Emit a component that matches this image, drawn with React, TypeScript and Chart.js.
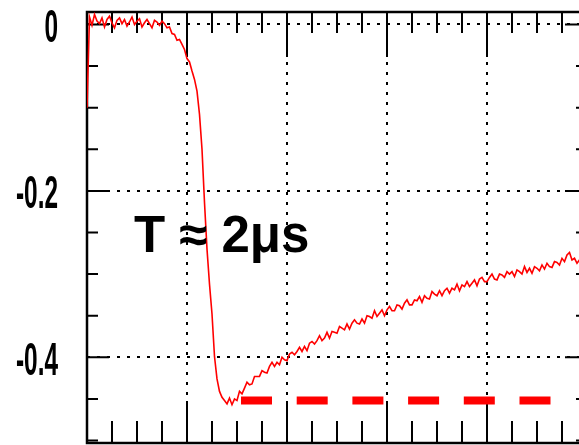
import { useEffect, useRef } from "react";
import { Chart, registerables } from "chart.js";

Chart.register(...registerables);

// Oscilloscope capture: sample interval in microseconds and the recorded trace (V)
const sampleStepUs = 0.05;
const traceVolts = [
  -0.100, 0.009, -0.001, 0.012, 0.004, 0.001, 0.008, -0.003, 0.006, 0.010,
  0.002, -0.004, 0.005, 0.008, 0.001, 0.006, -0.002, 0.003, 0.009, 0.000,
  0.004, 0.007, -0.003, 0.002, 0.006, 0.001, -0.004, 0.005, 0.003, -0.001,
  0.004, 0.001, -0.004, -0.003, -0.011, -0.012, -0.019, -0.018, -0.024, -0.030,
  -0.041, -0.045, -0.056, -0.066, -0.080, -0.108, -0.150, -0.214, -0.270, -0.312,
  -0.348, -0.399, -0.426, -0.441, -0.448, -0.452, -0.456, -0.449, -0.457, -0.450,
  -0.452, -0.441, -0.444, -0.437, -0.430, -0.433, -0.432, -0.423, -0.423, -0.423,
  -0.416, -0.418, -0.419, -0.411, -0.406, -0.411, -0.406, -0.409, -0.400, -0.403,
  -0.404, -0.396, -0.394, -0.397, -0.393, -0.388, -0.393, -0.387, -0.392, -0.383,
  -0.381, -0.384, -0.380, -0.374, -0.380, -0.377, -0.370, -0.377, -0.369, -0.370,
  -0.371, -0.363, -0.365, -0.367, -0.360, -0.366, -0.359, -0.355, -0.359, -0.360,
  -0.354, -0.359, -0.350, -0.351, -0.353, -0.344, -0.351, -0.347, -0.343, -0.350,
  -0.343, -0.339, -0.344, -0.344, -0.337, -0.338, -0.342, -0.335, -0.331, -0.337,
  -0.337, -0.331, -0.332, -0.327, -0.334, -0.326, -0.329, -0.330, -0.321, -0.324,
  -0.326, -0.320, -0.326, -0.320, -0.317, -0.323, -0.317, -0.319, -0.312, -0.320,
  -0.313, -0.315, -0.309, -0.315, -0.311, -0.307, -0.314, -0.306, -0.304, -0.309,
  -0.309, -0.304, -0.300, -0.306, -0.307, -0.300, -0.301, -0.304, -0.297, -0.300,
  -0.297, -0.303, -0.295, -0.297, -0.300, -0.291, -0.298, -0.293, -0.299, -0.291,
  -0.293, -0.296, -0.289, -0.294, -0.287, -0.291, -0.292, -0.285, -0.286, -0.289,
  -0.281, -0.285, -0.277, -0.274, -0.283, -0.281, -0.287, -0.283, -0.285,
];

// Reference level marking the trace minimum
const floorLevel = -0.452;
const floorSpanUs = [3.08, 9.3];

// Axes
const xRangeUs = [0, 10];
const yRangeVolts = [-0.503, 0.015];
const xMajorTicks = [2, 4, 6, 8];
const xMinorStep = 0.5;
const yTickValues = [-0.4, -0.2, 0];
const yTickLabels = ["-0.4", "-0.2", "0"];
const yMinorStep = 0.05;

// Annotation
const annotationText = "T ≈ 2μs";
const annotationAnchor = { x: 0.94, y: -0.273 };

const CANVAS_W = 600;
const CANVAS_H = 460;

const isMultiple = (v: number, step: number) =>
  Math.abs(v / step - Math.round(v / step)) < 1e-6;

const scopePlugin = {
  id: "scopeFrame",
  beforeDatasetsDraw(chart: any) {
    const { ctx, chartArea: a, scales } = chart;
    const xs = scales.x;
    const ys = scales.y;
    ctx.save();
    ctx.setLineDash([]);
    ctx.strokeStyle = "#000";
    ctx.lineWidth = 2;
    ctx.beginPath();
    // inward ticks on top and bottom edges
    for (let i = 1; i * xMinorStep < xRangeUs[1] - 1e-9; i++) {
      const v = i * xMinorStep;
      const px = xs.getPixelForValue(v);
      const major = xMajorTicks.some((m) => Math.abs(m - v) < 1e-6);
      ctx.moveTo(px, a.top);
      ctx.lineTo(px, a.top + (major ? 45 : 21));
      ctx.moveTo(px, a.bottom);
      ctx.lineTo(px, a.bottom - (major ? 42 : 22));
    }
    // inward ticks on left and right edges
    for (let k = 0; -k * yMinorStep >= yRangeVolts[0] - 1e-9; k++) {
      const v = -k * yMinorStep;
      const py = ys.getPixelForValue(v);
      const major = isMultiple(v, 0.2);
      const len = major ? 22 : 11;
      ctx.moveTo(a.left, py);
      ctx.lineTo(a.left + len, py);
      ctx.moveTo(a.right, py);
      ctx.lineTo(a.right - len, py);
    }
    ctx.stroke();
    ctx.lineWidth = 2.5;
    ctx.strokeRect(a.left, a.top, a.right - a.left, a.bottom - a.top);
    ctx.restore();
  },
  afterDraw(chart: any) {
    const { ctx, scales } = chart;
    const xs = scales.x;
    const ys = scales.y;
    ctx.save();
    ctx.fillStyle = "#000";
    // condensed axis labels
    ctx.font = "bold 46px 'Liberation Sans', Arial, sans-serif";
    ctx.textAlign = "right";
    ctx.textBaseline = "alphabetic";
    yTickValues.forEach((v, i) => {
      const py = ys.getPixelForValue(v);
      ctx.save();
      ctx.translate(58, py + 17.5);
      ctx.scale(0.53, 1);
      ctx.fillText(yTickLabels[i], 0, 0);
      ctx.restore();
    });
    // time-constant annotation
    ctx.font = "bold 51px 'Liberation Sans', Arial, sans-serif";
    ctx.textAlign = "left";
    ctx.fillText(
      annotationText,
      xs.getPixelForValue(annotationAnchor.x),
      ys.getPixelForValue(annotationAnchor.y)
    );
    ctx.restore();
  },
};

export default function App() {
  const canvasRef = useRef<HTMLCanvasElement | null>(null);

  useEffect(() => {
    const canvas = canvasRef.current;
    if (!canvas) return;
    const tracePoints = traceVolts.map((v, i) => ({ x: i * sampleStepUs, y: v }));
    const floorPoints = floorSpanUs.map((x) => ({ x, y: floorLevel }));

    const gridStyle = {
      color: "#000",
      lineWidth: 2,
      drawTicks: false,
    };

    const chart = new Chart(canvas, {
      type: "line",
      data: {
        datasets: [
          {
            data: tracePoints,
            borderColor: "#ff0000",
            borderWidth: 1.6,
            pointRadius: 0,
            tension: 0,
          },
          {
            data: floorPoints,
            borderColor: "#ff0000",
            borderWidth: 8,
            borderDash: [31, 24.7],
            borderCapStyle: "butt",
            pointRadius: 0,
          },
        ],
      },
      options: {
        animation: false,
        responsive: false,
        devicePixelRatio: 1,
        layout: {
          padding: { left: 87, top: 12, right: CANVAS_W - 587, bottom: CANVAS_H - 443 },
        },
        plugins: { legend: { display: false }, tooltip: { enabled: false } },
        scales: {
          x: {
            type: "linear",
            min: xRangeUs[0],
            max: xRangeUs[1],
            ticks: { display: false },
            grid: gridStyle,
            border: { display: false, dash: [3, 7] },
            afterBuildTicks: (s: any) => {
              s.ticks = xMajorTicks.map((value) => ({ value }));
            },
            afterFit: (s: any) => {
              s.height = 0;
            },
          },
          y: {
            type: "linear",
            min: yRangeVolts[0],
            max: yRangeVolts[1],
            ticks: { display: false },
            grid: gridStyle,
            border: { display: false, dash: [3, 7] },
            afterBuildTicks: (s: any) => {
              s.ticks = yTickValues.map((value) => ({ value }));
            },
            afterFit: (s: any) => {
              s.width = 0;
            },
          },
        },
      },
      plugins: [scopePlugin],
    } as any);

    return () => chart.destroy();
  }, []);

  return (
    <div
      style={{
        position: "fixed",
        left: 0,
        top: 0,
        width: 579,
        height: 445,
        overflow: "hidden",
        background: "#fff",
      }}
    >
      <canvas
        ref={canvasRef}
        width={CANVAS_W}
        height={CANVAS_H}
        style={{ display: "block", width: CANVAS_W, height: CANVAS_H }}
      />
    </div>
  );
}
